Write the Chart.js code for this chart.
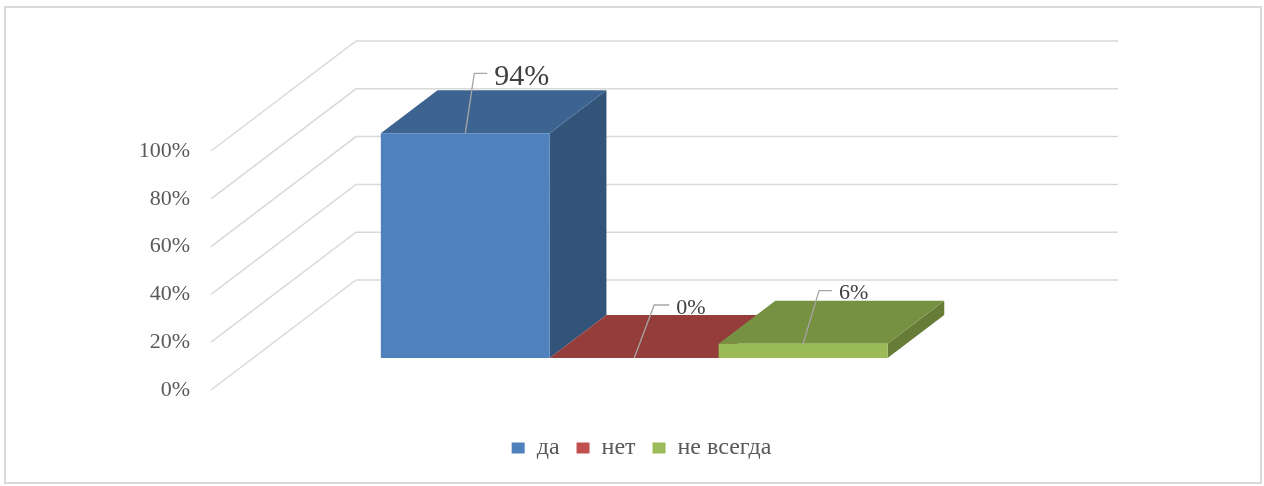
<!DOCTYPE html>
<html>
<head>
<meta charset="utf-8">
<script src="https://cdn.jsdelivr.net/npm/chart.js@4.4.1/dist/chart.umd.min.js"></script>
<style>
  html, body { margin: 0; padding: 0; background: #fff; overflow: hidden; }
  #wrap { position: relative; width: 1264px; height: 486px; }
</style>
</head>
<body>
<div id="wrap"><canvas id="chart"></canvas></div>
<script>
// ---------------------------- data ----------------------------
const categories = [''];
const seriesNames = ['да', 'нет', 'не всегда'];
const seriesValues = [[94], [0], [6]];
const yTicks = [0, 20, 40, 60, 80, 100];

// front / top / side colours of each series
const palette = [
  { front: '#4f81bd', top: '#3d6491', side: '#335479' },
  { front: '#c0504d', top: '#943d3b', side: '#7f3331' },
  { front: '#9bbb59', top: '#779142', side: '#667c37' }
];
// leader line of each data label: [dx, dy, horizontal length, font size]
const leaders = [[9, -60, 13, 30], [20, -53, 15, 22], [16, -53, 13, 22]];

const FONT = '"Liberation Serif", "Times New Roman", serif';

// ---------------------------- fake 3D ----------------------------
// oblique projection: depth 0 = front wall, 1 = back wall
const DX = 145, DY = 110, D0 = 0.291, D1 = 0.682;

function face(ctx, pts, color) {
  ctx.beginPath();
  ctx.moveTo(pts[0][0], pts[0][1]);
  for (let k = 1; k < pts.length; k++) ctx.lineTo(pts[k][0], pts[k][1]);
  ctx.closePath();
  ctx.fillStyle = color;
  ctx.fill();
}

const depthPlugin = {
  id: 'depth',
  beforeDraw(chart) {
    const ctx = chart.ctx;
    ctx.save();
    ctx.strokeStyle = '#d9d9d9';
    ctx.lineWidth = 2;
    ctx.strokeRect(5, 7, 1256, 476);
    ctx.restore();
  },
  beforeDatasetsDraw(chart) {
    const ctx = chart.ctx;
    const y = chart.scales.y;
    const area = chart.chartArea;
    ctx.save();

    // side wall + back wall grid lines
    ctx.strokeStyle = '#d9d9d9';
    ctx.lineWidth = 1.5;
    y.ticks.forEach(t => {
      const py = y.getPixelForValue(t.value);
      ctx.beginPath();
      ctx.moveTo(area.left, py);
      ctx.lineTo(area.left + DX, py - DY);
      ctx.lineTo(area.right + DX, py - DY);
      ctx.stroke();
    });

    // bars (left to right so later ones sit in front)
    const ox = (D1 - D0) * DX, oy = (D1 - D0) * DY;
    chart.data.datasets.forEach((ds, i) => {
      const p = chart.getDatasetMeta(i).data[0].getProps(['x', 'y', 'base', 'width'], true);
      const l = p.x - p.width / 2 + D0 * DX, r = p.x + p.width / 2 + D0 * DX;
      const t = p.y - D0 * DY, b = p.base - D0 * DY;
      const c = palette[i];
      if (b - t > 0.5) face(ctx, [[r, t], [r + ox, t - oy], [r + ox, b - oy], [r, b]], c.side);
      face(ctx, [[l, t], [r, t], [r + ox, t - oy], [l + ox, t - oy]], c.top);
      if (b - t > 0.5) face(ctx, [[l, t], [r, t], [r, b], [l, b]], c.front);
    });

    // data labels with leader lines
    chart.data.datasets.forEach((ds, i) => {
      const p = chart.getDatasetMeta(i).data[0].getProps(['x', 'y'], true);
      const cx = p.x + D0 * DX, t = p.y - D0 * DY;
      const [ldx, ldy, hl, size] = leaders[i];
      ctx.strokeStyle = '#a6a6a6';
      ctx.lineWidth = 1.3;
      ctx.beginPath();
      ctx.moveTo(cx, t);
      ctx.lineTo(cx + ldx, t + ldy);
      ctx.lineTo(cx + ldx + hl, t + ldy);
      ctx.stroke();
      ctx.font = size + 'px ' + FONT;
      ctx.fillStyle = '#404040';
      ctx.textBaseline = 'alphabetic';
      ctx.textAlign = 'left';
      ctx.fillText(ds.data[0] + '%', cx + ldx + hl + 7, t + ldy + 0.4 * size);
    });

    ctx.restore();
    return false; // default flat bars not drawn
  }
};

// ---------------------------- chart ----------------------------
const ctx = document.getElementById('chart');
new Chart(ctx, {
  type: 'bar',
  data: {
    labels: categories,
    datasets: seriesNames.map((name, i) => ({
      label: name,
      data: seriesValues[i],
      backgroundColor: palette[i].front,
      borderWidth: 0,
      categoryPercentage: 0.665,
      barPercentage: 1
    }))
  },
  options: {
    responsive: true,
    maintainAspectRatio: false,
    animation: false,
    layout: { padding: { top: 151, right: 0, bottom: 16, left: 19 } },
    scales: {
      x: {
        display: true,
        grid: { display: false, drawTicks: false },
        border: { display: false },
        ticks: { display: false },
        afterFit: s => { s.height = 29; }
      },
      y: {
        min: yTicks[0],
        max: yTicks[yTicks.length - 1],
        afterBuildTicks: s => { s.ticks = yTicks.map(v => ({ value: v })); },
        grid: { display: false, drawTicks: false },
        border: { display: false },
        ticks: {
          padding: 21,
          color: '#595959',
          font: { family: FONT, size: 22 },
          callback: v => v + '%'
        },
        afterFit: s => { s.width = 192; }
      },
      yRight: {
        type: 'linear',
        position: 'right',
        display: true,
        grid: { display: false, drawTicks: false },
        border: { display: false },
        ticks: { display: false },
        afterFit: s => { s.width = 291; }
      }
    },
    plugins: {
      tooltip: { enabled: false },
      legend: {
        position: 'bottom',
        labels: {
          boxWidth: 13,
          boxHeight: 11,
          padding: 17,
          color: '#595959',
          font: { family: FONT, size: 24 }
        }
      }
    }
  },
  plugins: [depthPlugin]
});
</script>
</body>
</html>
